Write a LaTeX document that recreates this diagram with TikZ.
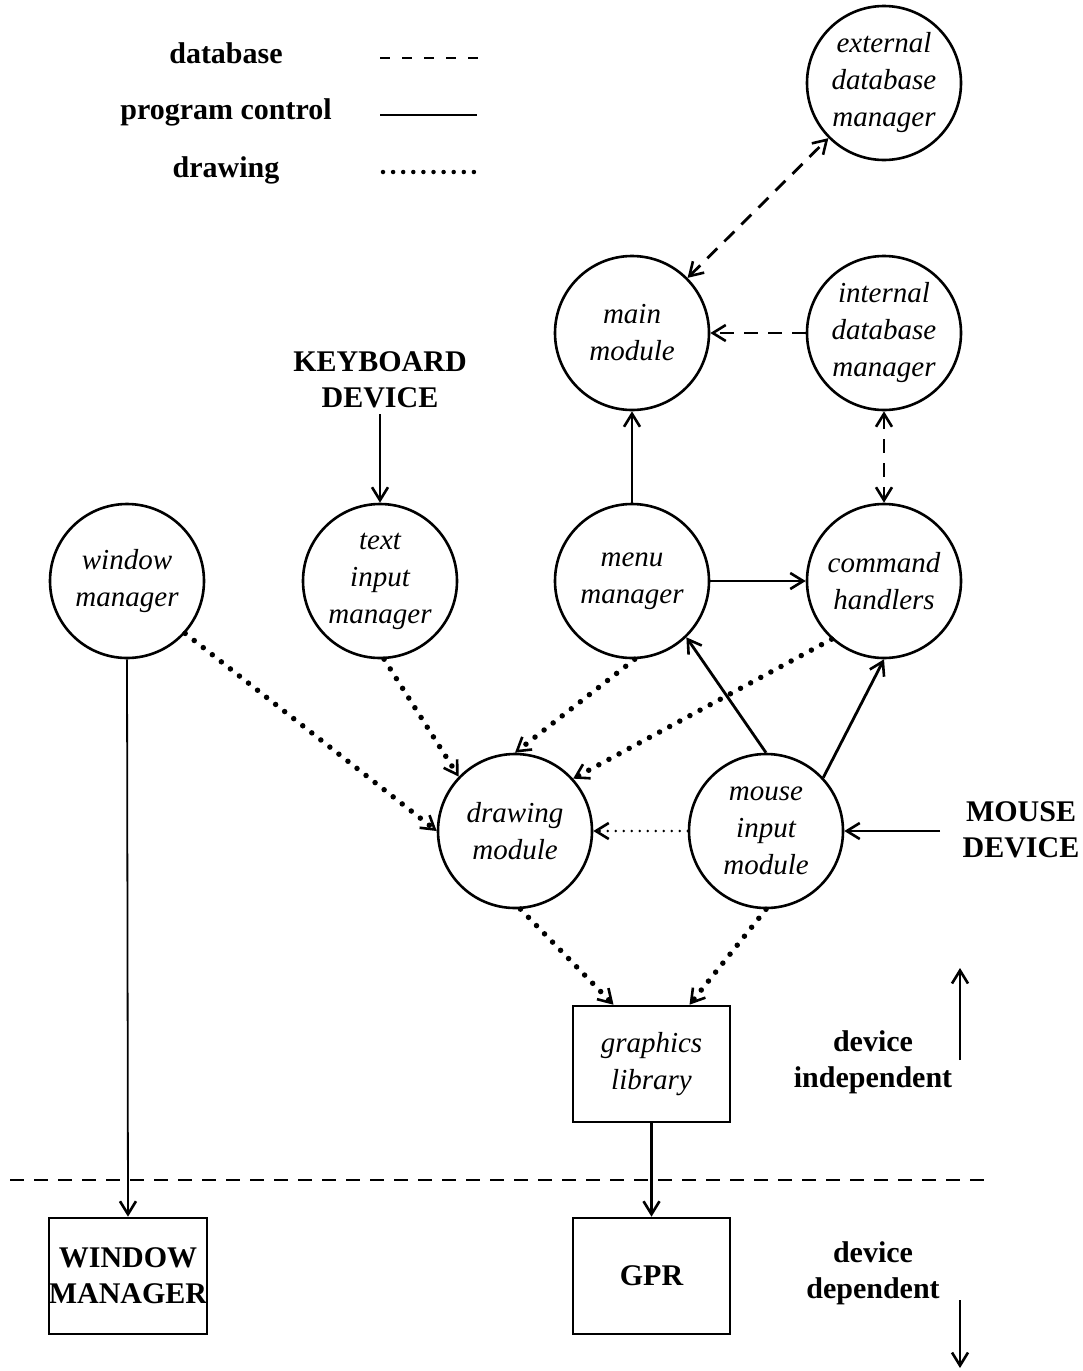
\documentclass[tikz,border=0pt]{standalone}
\usepackage{fontspec}
\setmainfont{Liberation Serif}
\usetikzlibrary{arrows.meta,calc}
\begin{document}
\begin{tikzpicture}[x=1pt,y=-1pt,
  proc/.style={circle,draw,line width=2.6pt,minimum size=154pt,inner sep=0pt,align=center,
    font=\fontsize{29}{37}\selectfont\itshape},
  boxn/.style={rectangle,draw,line width=2.6pt,minimum width=157pt,minimum height=116pt,inner sep=0pt,align=center},
  lbl/.style={align=center,inner sep=0pt,font=\fontsize{30}{36}\selectfont\bfseries},
  tip/.style={-{Straight Barb[length=13pt,width=16pt,line width=2.6pt]}},
  dtip/.style={{Straight Barb[length=13pt,width=16pt,line width=2.6pt]}-{Straight Barb[length=13pt,width=16pt,line width=2.6pt]}},
  ctrl/.style={line width=2.8pt},
  thinctrl/.style={line width=1.8pt},
  db/.style={line width=2.8pt,dash pattern=on 14pt off 10pt},
  drw/.style={line width=5.5pt,line cap=round,dash pattern=on 0pt off 11.5pt},
  thindrw/.style={line width=2.8pt,line cap=round,dash pattern=on 0pt off 8pt},
  ]
\useasboundingbox (0,0) rectangle (1082,1371);

% legend
\node[lbl,anchor=base] (ldb) at (226,63) {database};
\node[lbl,anchor=base] (lpc) at (226,119) {program control};
\node[lbl,anchor=base] (ldr) at (226,177) {drawing};
\coordinate (ldba) at (380,58); \coordinate (ldbb) at (478,58);
\coordinate (lpca) at (380,115); \coordinate (lpcb) at (477,115);
\coordinate (ldra) at (383,172); \coordinate (ldrb) at (484,172);
\draw[line width=2.8pt,dash pattern=on 10pt off 12pt] (ldba) -- (ldbb);
\draw[ctrl] (lpca) -- (lpcb);
\draw[line width=4.5pt,line cap=round,dash pattern=on 0pt off 10.1pt] (ldra) -- (ldrb);

% processes
\node[proc] (ext) at (884,83) {external\\database\\manager};
\node[proc] (main) at (632,333) {main\\module};
\node[proc] (int) at (884,333) {internal\\database\\manager};
\node[proc] (win) at (127,581) {window\\manager};
\node[proc] (txt) at (380,581) {text\\input\\manager};
\node[proc] (menu) at (632,581) {menu\\manager};
\node[proc] (cmd) at (884,581) {command\\handlers};
\node[proc] (drw) at (515,831) {drawing\\module};
\node[proc] (mouse) at (766,831) {mouse\\input\\module};

\node[boxn,font=\fontsize{29}{37}\selectfont\itshape] (gl) at (651.5,1064) {graphics\\library};
\node[boxn,font=\fontsize{30}{36}\selectfont\bfseries] (gpr) at (651.5,1276) {GPR};
\node[boxn,font=\fontsize{30}{36}\selectfont\bfseries] (wmb) at (128,1276) {WINDOW\\MANAGER};

\node[lbl] (kbd) at (380,380) {KEYBOARD\\DEVICE};
\node[lbl] (mdev) at (1021,830) {MOUSE\\DEVICE};
\node[lbl] (dind) at (873,1062) {device\\independent};
\node[lbl] (ddep) at (873,1273) {device\\dependent};

% database connectors
\draw[db,dtip] (main) -- (ext);
\draw[db,tip] (int) -- (main);
\draw[db,dtip] (int) -- (cmd);

% program control
\draw[ctrl,tip] (menu) -- (main);
\draw[ctrl,tip] (menu) -- (cmd);
\coordinate (kbds) at (380,414);
\draw[ctrl,tip] (kbds) -- (txt.north);
\draw[thinctrl,tip] (win.south) -- (wmb.north);
\draw[ctrl,tip] (mouse.north) -- (menu.-46);
\draw[ctrl,tip] (mouse.43) -- (cmd.south);
\coordinate (mdl) at (940,831);
\draw[ctrl,tip] (mdl) -- (mouse.east);
\draw[ctrl,tip] (gl.south) -- (gpr.north);

% drawing
\draw[drw,tip] (win.-42) -- (drw.west);
\draw[drw,tip] (txt.-87) -- (drw.136);
\draw[drw,tip] (menu.-88) -- (drw.north);
\draw[drw,tip] (cmd.-132) -- (drw.42);
\draw[thindrw,tip] (mouse.west) -- (drw.east);
\draw[drw,tip] (drw.-86) -- ([xshift=-38pt]gl.north);
\draw[drw,tip] (mouse.south) -- ([xshift=38pt]gl.north);

% separator and device arrows
\coordinate (sepl) at (10,1180); \coordinate (sepr) at (985,1180);
\draw[db] (sepl) -- (sepr);
\coordinate (upa) at (960,1060); \coordinate (upb) at (960,968);
\draw[ctrl,tip] (upa) -- (upb);
\coordinate (dna) at (960,1300); \coordinate (dnb) at (960,1368);
\draw[ctrl,tip] (dna) -- (dnb);
\end{tikzpicture}
\end{document}
